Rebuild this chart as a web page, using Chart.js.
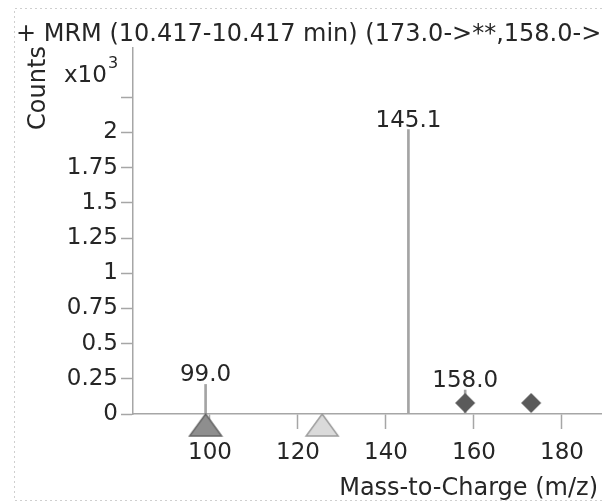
<!DOCTYPE html>
<html>
<head>
<meta charset="utf-8">
<script src="https://cdn.jsdelivr.net/npm/chart.js@4"></script>
<style>
  html, body { margin: 0; padding: 0; background: #fff; }
  canvas { display: block; }
</style>
</head>
<body>
<canvas id="spectrum" width="602" height="504"></canvas>
<script>
// ── Data ───────────────────────────────────────────────────────────────────
// peaks: m/z and counts (x10^3)
const peakMz     = [99.0, 145.1, 158.0];
const peakCounts = [0.21, 2.02, 0.17];

// precursor / product markers (sit on the baseline)
const diamondMz  = [158.0, 173.0];
const triDarkMz  = [99.0];
const triLightMz = [125.5];

const xTicks = [100, 120, 140, 160, 180];
const yTicks = [0, 0.25, 0.5, 0.75, 1, 1.25, 1.5, 1.75, 2, 2.25];
const yLabelMax = 2;

const titleText = '+ MRM (10.417-10.417 min) (173.0->**,158.0->**)';
const xTitle = 'Mass-to-Charge (m/z)';
const yTitle = 'Counts';

// ── Style ──────────────────────────────────────────────────────────────────
const FONT = '"DejaVu Sans", Verdana, sans-serif';
const TEXT = '#262626';
const AXIS = '#a6a6a6';

// ── Marker images ──────────────────────────────────────────────────────────
function markerCanvas(w, h, draw) {
  const c = document.createElement('canvas');
  c.width = w; c.height = h;
  draw(c.getContext('2d'));
  return c;
}

// triangle hangs under the point: apex at the canvas centre
function triangle(fill, stroke) {
  return markerCanvas(36, 48, ctx => {
    ctx.beginPath();
    ctx.moveTo(18, 24);
    ctx.lineTo(34, 46);
    ctx.lineTo(2, 46);
    ctx.closePath();
    ctx.fillStyle = fill;
    ctx.fill();
    ctx.lineWidth = 1.5;
    ctx.strokeStyle = stroke;
    ctx.stroke();
  });
}

// diamond floats just above the point
const diamond = markerCanvas(22, 44, ctx => {
  ctx.beginPath();
  ctx.moveTo(11, 1);
  ctx.lineTo(21, 11);
  ctx.lineTo(11, 21);
  ctx.lineTo(1, 11);
  ctx.closePath();
  ctx.fillStyle = '#5a5a5a';
  ctx.fill();
});

const triDark = triangle('#8e8e8e', '#666');
const triLight = triangle('#dadada', '#9c9c9c');

const onBaseline = xs => xs.map(x => ({ x, y: 0 }));

// ── Text overlay ───────────────────────────────────────────────────────────
const overlay = {
  id: 'overlay',
  afterDatasetsDraw(chart) {
    const { ctx } = chart;
    const meta = chart.getDatasetMeta(0);
    ctx.save();
    ctx.fillStyle = TEXT;
    ctx.font = '23px ' + FONT;
    ctx.textAlign = 'center';
    ctx.textBaseline = 'alphabetic';
    meta.data.forEach((bar, i) => {
      ctx.fillText(peakMz[i].toFixed(1), bar.x, bar.y - 3);
    });
    ctx.restore();
  },
  afterDraw(chart) {
    const { ctx, width } = chart;
    ctx.save();

    // dotted frame
    ctx.strokeStyle = '#cfcfcf';
    ctx.lineWidth = 1;
    ctx.setLineDash([2, 3]);
    ctx.beginPath();
    ctx.moveTo(width, 8.5); ctx.lineTo(14.5, 8.5);
    ctx.lineTo(14.5, 500.5); ctx.lineTo(width, 500.5);
    ctx.stroke();
    ctx.setLineDash([]);

    ctx.fillStyle = TEXT;
    ctx.textBaseline = 'alphabetic';

    ctx.font = '24px ' + FONT;
    ctx.textAlign = 'left';
    ctx.fillText(titleText, 16, 41);

    ctx.font = '23px ' + FONT;
    ctx.fillText('x10', 64, 82);
    ctx.font = '16px ' + FONT;
    ctx.fillText('3', 108, 68);

    ctx.font = '24px ' + FONT;
    ctx.textAlign = 'right';
    ctx.fillText(xTitle, 598, 495);

    ctx.translate(45, 88);
    ctx.rotate(-Math.PI / 2);
    ctx.textAlign = 'center';
    ctx.fillText(yTitle, 0, 0);

    ctx.restore();
  }
};

// ── Chart ──────────────────────────────────────────────────────────────────
new Chart(document.getElementById('spectrum'), {
  type: 'bar',
  data: {
    datasets: [
      {
        data: peakMz.map((x, i) => ({ x, y: peakCounts[i] })),
        backgroundColor: '#a4a4a4',
        barThickness: 2,
        grouped: false,
        order: 2
      },
      {
        type: 'scatter',
        data: onBaseline(diamondMz),
        pointStyle: diamond,
        clip: false,
        order: 1
      },
      {
        type: 'scatter',
        data: onBaseline(triDarkMz),
        pointStyle: triDark,
        clip: false,
        order: 1
      },
      {
        type: 'scatter',
        data: onBaseline(triLightMz),
        pointStyle: triLight,
        clip: false,
        order: 1
      }
    ]
  },
  options: {
    responsive: false,
    animation: false,
    devicePixelRatio: 1,
    layout: { autoPadding: false, padding: { top: 48, left: 0, right: 0, bottom: 0 } },
    plugins: { legend: { display: false }, tooltip: { enabled: false } },
    scales: {
      x: {
        type: 'linear',
        min: 82.5,
        max: 189.1,
        offset: false,
        afterBuildTicks: s => { s.ticks = xTicks.map(value => ({ value })); },
        afterFit: s => { s.height = 90; s.paddingLeft = 0; s.paddingRight = 0; },
        ticks: {
          color: TEXT,
          font: { family: FONT, size: 23 },
          padding: 10,
          maxRotation: 0,
          autoSkip: false
        },
        grid: { offset: false, drawOnChartArea: false, tickLength: 15, tickColor: AXIS, tickWidth: 1.5 },
        border: { color: AXIS, width: 1.5 }
      },
      y: {
        min: 0,
        max: 2.6,
        afterBuildTicks: s => { s.ticks = yTicks.map(value => ({ value })); },
        afterFit: s => { s.width = 133; s.paddingTop = 0; s.paddingBottom = 0; },
        ticks: {
          color: TEXT,
          font: { family: FONT, size: 23 },
          padding: 3,
          autoSkip: false,
          callback: v => (v <= yLabelMax ? String(v) : '')
        },
        grid: { drawOnChartArea: false, tickLength: 12, tickColor: AXIS, tickWidth: 1.5 },
        border: { color: AXIS, width: 1.5 }
      }
    }
  },
  plugins: [overlay]
});
</script>
</body>
</html>
